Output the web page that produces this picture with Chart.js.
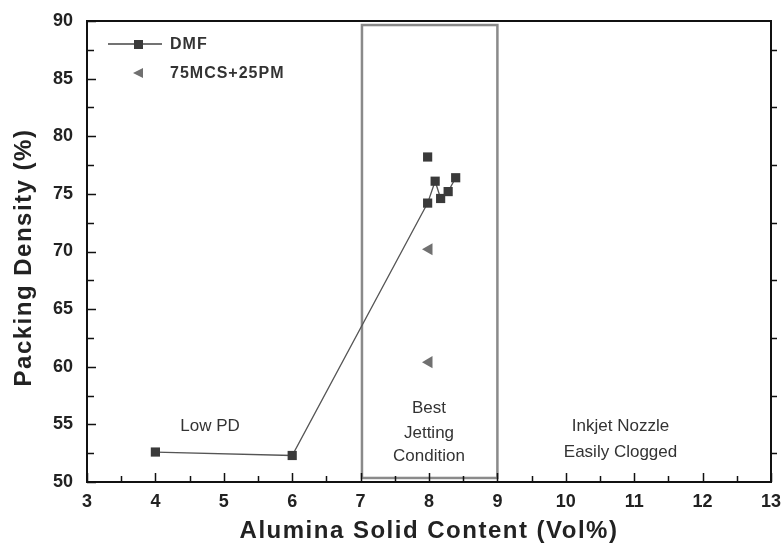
<!DOCTYPE html>
<html><head><meta charset="utf-8">
<script src="https://cdn.jsdelivr.net/npm/chart.js@4.4.1/dist/chart.umd.min.js"></script>
<style>html,body{margin:0;padding:0;background:#fff}#wrap{width:782px;height:550px}</style>
</head><body><div id="wrap"><canvas id="c" width="782" height="550"></canvas></div>
<script>
// ---- data ----
const dmfX = [4, 6, 7.98, 8.09, 8.17, 8.28, 8.39, null, 7.98];
const dmfY = [52.6, 52.3, 74.2, 76.1, 74.6, 75.2, 76.4, null, 78.2];
const mcsX = [8.0, 8.0];
const mcsY = [70.2, 60.4];
const seriesNames = ['DMF', '75MCS+25PM'];
const xTitle = 'Alumina Solid Content (Vol%)';
const yTitle = 'Packing Density (%)';
const boxRange = {x0: 7.02, x1: 9.0, y0: 50.35, y1: 89.65};
const notes = [
  {x: 4.8, y: 54.8, text: 'Low PD'},
  {x: 8.0, y: 56.4, text: 'Best'},
  {x: 8.0, y: 54.25, text: 'Jetting'},
  {x: 8.0, y: 52.2, text: 'Condition'},
  {x: 10.8, y: 54.8, text: 'Inkjet Nozzle'},
  {x: 10.8, y: 52.6, text: 'Easily Clogged'}
];

const FONT = '"Liberation Sans", Arial, sans-serif';
const dmfData = dmfX.map((x, i) => ({x: x, y: dmfY[i]}));
const mcsData = mcsX.map((x, i) => ({x: x, y: mcsY[i]}));

const framePlugin = {
  id: 'frame',
  beforeDatasetsDraw(chart) {
    const {ctx, scales: {x, y}} = chart;
    ctx.save();
    ctx.strokeStyle = '#8a8a8a';
    ctx.lineWidth = 2.5;
    const bx0 = x.getPixelForValue(boxRange.x0), bx1 = x.getPixelForValue(boxRange.x1);
    const by0 = y.getPixelForValue(boxRange.y1), by1 = y.getPixelForValue(boxRange.y0);
    ctx.strokeRect(bx0, by0, bx1 - bx0, by1 - by0);
    ctx.fillStyle = '#333';
    ctx.font = '17px ' + FONT;
    ctx.textAlign = 'center';
    ctx.textBaseline = 'middle';
    notes.forEach(n => ctx.fillText(n.text, x.getPixelForValue(n.x), y.getPixelForValue(n.y)));
    ctx.restore();
  },
  afterDatasetsDraw(chart) {
    const {ctx, chartArea: a, scales: {x, y}} = chart;
    ctx.save();
    ctx.strokeStyle = '#111';
    ctx.lineWidth = 2;
    ctx.strokeRect(a.left, a.top, a.right - a.left, a.bottom - a.top);
    ctx.lineWidth = 1.5;
    ctx.beginPath();
    for (let v = 3; v <= 13.001; v += 0.5) {
      const px = Math.round(x.getPixelForValue(v)) + 0.5;
      const len = Math.abs(v - Math.round(v)) < 1e-6 ? 9 : 6;
      ctx.moveTo(px, a.bottom); ctx.lineTo(px, a.bottom - len);
    }
    for (let v = 50; v <= 90.001; v += 2.5) {
      const py = Math.round(y.getPixelForValue(v)) + 0.5;
      const len = Math.abs(v / 5 - Math.round(v / 5)) < 1e-6 ? 9 : 7;
      ctx.moveTo(a.left, py); ctx.lineTo(a.left + len, py);
    }
    for (let v = 52.5; v <= 90; v += 5) {
      const py = Math.round(y.getPixelForValue(v)) + 0.5;
      ctx.moveTo(a.right, py); ctx.lineTo(a.right + 6, py);
    }
    ctx.stroke();

    // legend
    ctx.strokeStyle = '#444'; ctx.lineWidth = 1.3;
    ctx.beginPath(); ctx.moveTo(108, 44); ctx.lineTo(162, 44); ctx.stroke();
    ctx.fillStyle = '#3a3a3a';
    ctx.fillRect(134, 40, 9, 9);
    ctx.fillStyle = '#707070';
    ctx.beginPath(); ctx.moveTo(133, 73); ctx.lineTo(143, 68); ctx.lineTo(143, 78); ctx.closePath(); ctx.fill();
    ctx.fillStyle = '#333';
    ctx.font = 'bold 16px ' + FONT;
    ctx.textAlign = 'left'; ctx.textBaseline = 'middle';
    ctx.letterSpacing = '1px';
    ctx.fillText(seriesNames[0], 170, 45);
    ctx.fillText(seriesNames[1], 170, 74);

    ctx.fillStyle = '#222';
    ctx.font = 'bold 24px ' + FONT;
    ctx.letterSpacing = '1.5px';
    ctx.textAlign = 'center'; ctx.textBaseline = 'middle';
    ctx.fillText(xTitle, (a.left + a.right) / 2, 531);
    ctx.translate(24, (a.top + a.bottom) / 2 + 6);
    ctx.rotate(-Math.PI / 2);
    ctx.fillText(yTitle, 0, 0);
    ctx.restore();
  }
};

new Chart(document.getElementById('c'), {
  type: 'scatter',
  data: {
    datasets: [
      {label: seriesNames[0], data: dmfData, showLine: true, spanGaps: false,
       borderColor: '#555', borderWidth: 1.3, pointStyle: 'rect', pointRadius: 6.5,
       backgroundColor: '#3a3a3a', pointBorderColor: '#3a3a3a', pointBorderWidth: 0},
      {label: seriesNames[1], data: mcsData, pointStyle: 'triangle', rotation: -90,
       pointRadius: 7, backgroundColor: '#707070', borderColor: '#707070', pointBorderWidth: 0}
    ]
  },
  options: {
    responsive: false, animation: false, devicePixelRatio: 1,
    layout: {padding: {top: 21, right: 11, left: 0, bottom: 0}},
    plugins: {legend: {display: false}, tooltip: {enabled: false}},
    scales: {
      x: {type: 'linear', min: 3, max: 13,
          ticks: {stepSize: 1, padding: 9, color: '#222', font: {family: FONT, size: 18, weight: 'bold'}},
          grid: {display: false, drawTicks: false},
          border: {display: true, color: '#111', width: 2},
          afterFit(s) { s.height = 68; s.paddingLeft = 0; s.paddingRight = 0; }},
      y: {type: 'linear', min: 50, max: 90,
          ticks: {stepSize: 5, padding: 14, color: '#222', font: {family: FONT, size: 18, weight: 'bold'}},
          grid: {display: false, drawTicks: false},
          border: {display: true, color: '#111', width: 2},
          afterFit(s) { s.width = 87; s.paddingTop = 0; s.paddingBottom = 0; }}
    }
  },
  plugins: [framePlugin]
});
</script></body></html>
